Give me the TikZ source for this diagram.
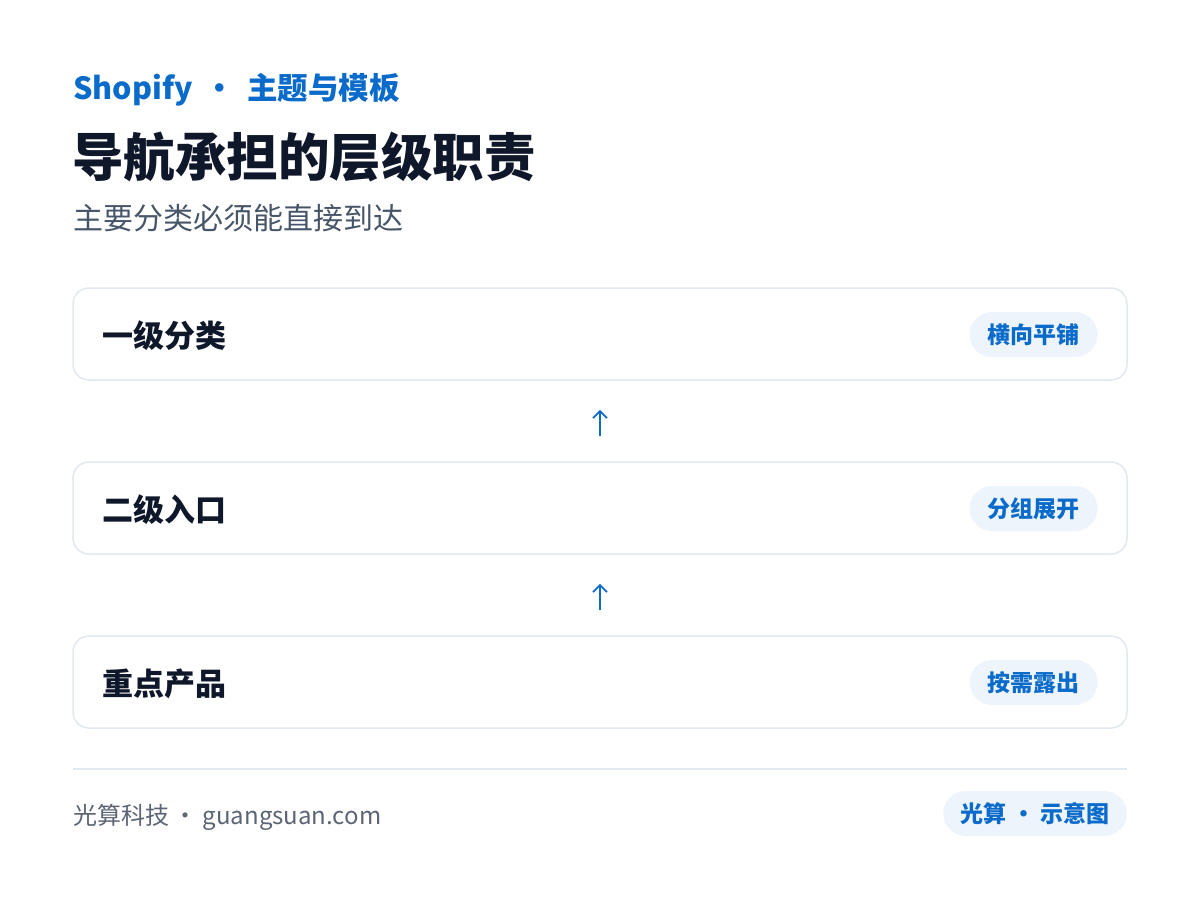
\documentclass[tikz,border=0pt]{standalone}
\usepackage{fontspec}
\setmainfont{Noto Sans CJK SC}
\usetikzlibrary{positioning,arrows.meta}
\definecolor{brandblue}{HTML}{0B6BCB}
\definecolor{inkdark}{HTML}{0F172A}
\definecolor{subgray}{HTML}{475569}
\definecolor{footgray}{HTML}{5B6574}
\definecolor{edgegray}{HTML}{E2E8F0}
\definecolor{pillfill}{HTML}{EEF4FC}
\tikzset{
  txt/.style={inner sep=0pt, anchor=base west},
  levelbox/.style={draw=edgegray, line width=1.5pt, fill=white, rounded corners=16pt,
    minimum width=1054pt, minimum height=92pt},
  pill/.style={fill=pillfill, rounded corners=22.5pt, minimum height=45pt, inner xsep=18pt,
    inner ysep=0pt, text height=20.2pt, text depth=2.8pt, text=brandblue,
    font=\fontsize{23}{27}\selectfont\bfseries},
}
\begin{document}
\begin{tikzpicture}[x=1pt,y=-1pt,>={Straight Barb[length=7pt,width=14pt]}]
    % page
    \useasboundingbox[fill=white] (0,0) rectangle (1200,900);

    % header
    \node[txt, text=brandblue, font=\fontsize{30.5}{36}\selectfont\bfseries] (kicker) at (73,99.5) {Shopify\hspace{0.4em}·\hspace{0.4em}主题与模板};
    \node[txt, text=inkdark, font=\fontsize{51.5}{60}\selectfont\bfseries] (title) at (72,176.5) {导航承担的层级职责};
    \node[txt, text=subgray, font=\fontsize{30}{36}\selectfont] (subtitle) at (73,229.5) {主要分类必须能直接到达};

    % the three levels
    \foreach \n/\y/\name/\tag in {
        1/334/一级分类/横向平铺,
        2/508/二级入口/分组展开,
        3/682/重点产品/按需露出} {
        \node[levelbox] (lvl\n) at (600,\y) {};
        \node[txt, text=inkdark, font=\fontsize{31}{36}\selectfont\bfseries] (name\n) at ([xshift=30pt,yshift=-13.8pt]lvl\n.west) {\name};
        \node[pill, anchor=east] (tag\n) at ([xshift=-30pt,yshift=-0.5pt]lvl\n.east) {\tag};
    }

    % arrows between levels
    \foreach \a/\b in {1/2,2/3}
        \draw[->, brandblue, line width=1.8pt] ([yshift=25pt]lvl\b.north) -- ([yshift=-29pt]lvl\a.south);

    % footer
    \coordinate (ruleL) at (73,769);
    \coordinate (ruleR) at (1127,769);
    \draw[edgegray, line width=2pt] (ruleL) -- (ruleR);
    \node[txt, text=footgray, font=\fontsize{24}{30}\selectfont] (brand) at (73,824.5) {光算科技\hspace{0.2em}·\hspace{0.2em}guangsuan.com};
    \node[pill, anchor=east, inner xsep=17pt] (stamp) at (1127,813.5) {光算\hspace{0.25em}·\hspace{0.25em}示意图};
\end{tikzpicture}
\end{document}
